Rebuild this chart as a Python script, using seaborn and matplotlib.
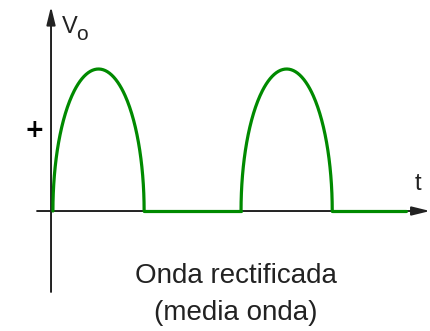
import numpy as np
import pandas as pd
import matplotlib
matplotlib.use("Agg")
import matplotlib.pyplot as plt
import seaborn as sns

# Half-wave rectified output: conduction intervals (time units) and peak value
pulse_start = [0.02, 2.00]
pulse_end = [0.98, 2.96]
amplitude = 1.0
# Zero-output intervals between and after the pulses
off_start = [0.98, 2.96]
off_end = [2.00, 3.74]

title_lines = ["Onda rectificada", "(media onda)"]
y_label = "V"
y_label_sub = "o"
x_label = "t"
sign_label = "+"

rows = []
seg = 0
for a, b in zip(pulse_start, pulse_end):
    # rounded lobe: steep flanks, broad crest
    theta = np.linspace(0, np.pi, 200)
    mid, half = (a + b) / 2, (b - a) / 2
    t = mid - half * np.cos(theta)
    v = amplitude * np.sin(theta)
    rows += [dict(t=ti, v=vi, seg=seg) for ti, vi in zip(t, v)]
    seg += 1
for a, b in zip(off_start, off_end):
    rows += [dict(t=a, v=0.0, seg=seg), dict(t=b, v=0.0, seg=seg)]
    seg += 1
df = pd.DataFrame(rows)

sns.set_theme(style="white")
fig = plt.figure(figsize=(4.30, 3.31), dpi=100)
ax = fig.add_axes([0, 0, 1, 1])
ax.set_xlim(-0.537, 3.989)
ax.set_ylim(-0.845, 1.486)
ax.axis("off")

axis_color = "#222222"
# horizontal axis (time) with arrow
ax.annotate("", xy=(3.99, 0), xytext=(-0.147, 0),
            arrowprops=dict(arrowstyle="-|>,head_length=0.9,head_width=0.22",
                            color=axis_color, lw=1.4, shrinkA=0, shrinkB=0))
# vertical axis (voltage) with arrow
ax.annotate("", xy=(0, 1.44), xytext=(0, -0.57),
            arrowprops=dict(arrowstyle="-|>,head_length=0.9,head_width=0.22",
                            color=axis_color, lw=1.4, shrinkA=0, shrinkB=0))

sns.lineplot(data=df, x="t", y="v", units="seg", estimator=None, sort=False,
             color="#008a00", lw=2.3, ax=ax, zorder=3)

fam = "Liberation Sans"
ax.text(0.116, 1.254, y_label, fontsize=17, family=fam, color="#222222",
        ha="left", va="baseline")
ax.text(0.265, 1.205, y_label_sub, fontsize=15, family=fam, color="#222222",
        ha="left", va="baseline")
ax.text(-0.18, 0.57, sign_label, fontsize=17, fontweight="bold", color="black",
        ha="center", va="center", family="DejaVu Sans")
ax.text(3.86, 0.19, x_label, fontsize=17, family=fam, color="#222222",
        ha="center", va="center")
ax.text(1.942, -0.507, title_lines[0], fontsize=20, family=fam, color="#222222",
        ha="center", va="baseline")
ax.text(1.942, -0.768, title_lines[1], fontsize=20, family=fam, color="#222222",
        ha="center", va="baseline")

fig.savefig("out.png", dpi=100)
